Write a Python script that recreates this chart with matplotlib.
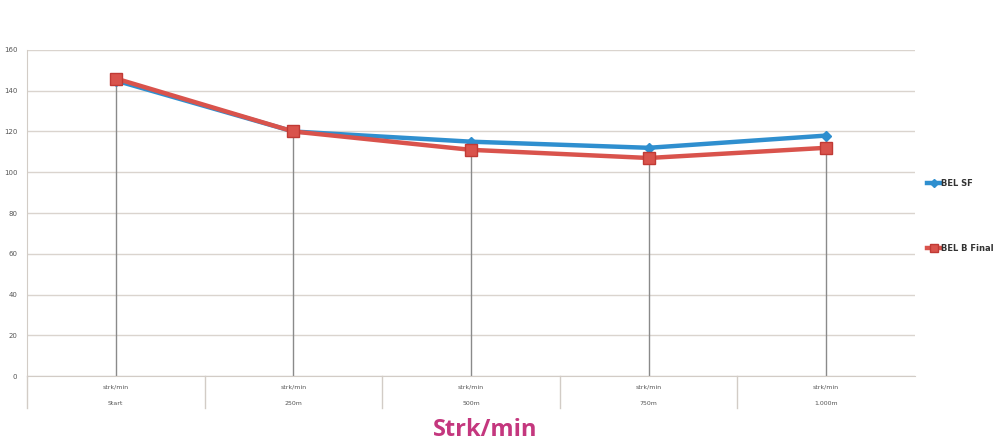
import matplotlib.pyplot as plt
import matplotlib.transforms as mtransforms
import numpy as np

categories = ["Start", "250m", "500m", "750m", "1.000m"]
unit_label = "strk/min"
bel_sf = [145, 120, 115, 112, 118]
bel_b_final = [146, 120, 111, 107, 112]
y_ticks = [0, 20, 40, 60, 80, 100, 120, 140, 160]

fig = plt.figure(figsize=(10.03, 4.48), dpi=100)
fig.set_facecolor("white")
ax = fig.add_axes([27 / 1003, 1 - 376 / 448, 888 / 1003, 326 / 448])

x = np.arange(len(categories))
ax.set_xlim(-0.5, len(categories) - 0.5)
ax.set_ylim(0, 160)

# horizontal gridlines
ax.set_yticks(y_ticks)
ax.yaxis.grid(True, color="#dad4ce", linewidth=1.0)
ax.set_axisbelow(True)
ax.tick_params(axis="y", length=0, labelsize=5, labelcolor="#555555", pad=7)
ax.tick_params(axis="x", length=0, labelbottom=False)
for side in ["top", "right"]:
    ax.spines[side].set_visible(False)
ax.spines["left"].set_color("#d2ccc6")
ax.spines["bottom"].set_color("#d2ccc6")

# drop lines from the top point down to the axis
top = np.maximum(bel_sf, bel_b_final)
ax.vlines(x, 0, top, color="#8a8a8a", linewidth=1.0, zorder=1)

ax.plot(x, bel_sf, color="#2f8fcf", linewidth=3.2, marker="D",
        markersize=5, markerfacecolor="#2f8fcf", markeredgecolor="#2f8fcf",
        zorder=3, label="BEL SF")
ax.plot(x, bel_b_final, color="#d9534c", linewidth=3.2, marker="s",
        markersize=8, markerfacecolor="#d9534c", markeredgecolor="#c03a35",
        zorder=4, label="BEL B Final")

# two-level category labels under the axis
trans = mtransforms.blended_transform_factory(ax.transData, ax.transAxes)
for i, cat in enumerate(categories):
    ax.text(i, -0.034, unit_label, transform=trans, ha="center", va="center",
            fontsize=4.5, color="#555555")
    ax.text(i, -0.083, cat, transform=trans, ha="center", va="center",
            fontsize=4.5, color="#555555")
for b in np.arange(-0.5, len(categories) - 0.5):
    ax.plot([b, b], [0, -0.098], transform=trans, color="#d2ccc6",
            linewidth=1.0, clip_on=False)

fig.text(485 / 1003, 1 - 430 / 448, "Strk/min", ha="center", va="center",
         fontsize=17, fontweight="bold", color="#c4377e", family="Open Sans")

leg = ax.legend(loc="center left", bbox_to_anchor=(1.005, 0.49),
                frameon=False, fontsize=6, handlelength=1.6,
                labelspacing=6.7, handletextpad=0.05, markerscale=0.75)
for t in leg.get_texts():
    t.set_fontweight("bold")
    t.set_color("#333333")

fig.savefig("out.png", dpi=100, facecolor="white")
